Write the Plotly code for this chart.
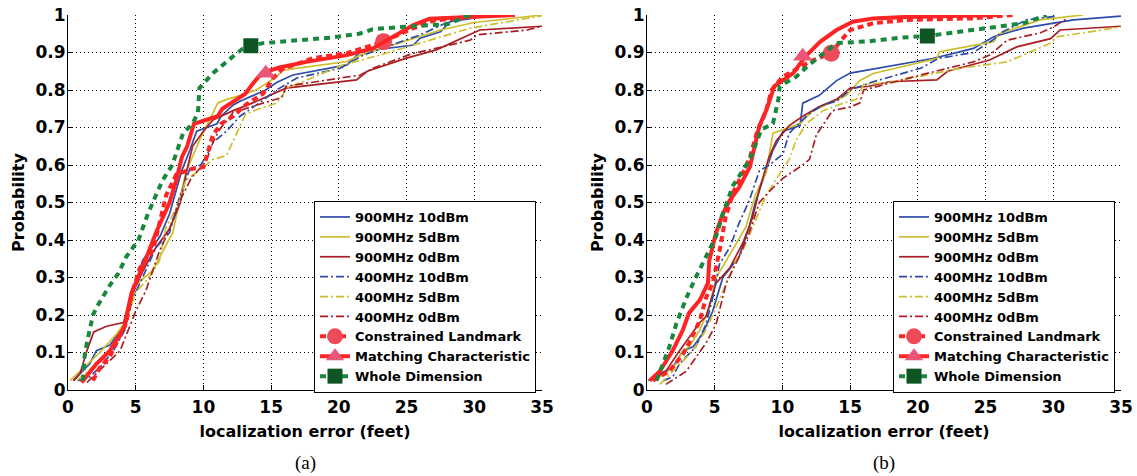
import plotly.graph_objects as go

# ---------------- DATA: panel (a) ----------------
A_900_10_X = [0.4, 1.1, 1.6, 2.1, 3.1, 4.1, 4.6, 5.5, 6.8, 7.5, 8.4, 9.0, 9.5, 11.0, 11.3, 12.2, 12.7, 14.6, 15.4, 16.6, 18.1, 20.6, 21.6, 25.5, 26.0, 27.5, 28.2, 29.7, 31.0]
A_900_10_Y = [0.025, 0.05, 0.07, 0.105, 0.12, 0.17, 0.23, 0.345, 0.41, 0.47, 0.585, 0.64, 0.69, 0.71, 0.73, 0.76, 0.77, 0.80, 0.82, 0.84, 0.85, 0.867, 0.902, 0.92, 0.938, 0.955, 0.982, 0.99, 1.0]
A_900_5_X = [0.15, 0.9, 2.35, 3.6, 4.3, 5.0, 6.3, 7.0, 7.75, 8.2, 8.7, 9.7, 11.05, 11.7, 12.7, 13.9, 15.4, 15.9, 20.6, 21.6, 25.5, 27.5, 30.0, 35.0]
A_900_5_Y = [0.025, 0.05, 0.1, 0.15, 0.185, 0.28, 0.32, 0.37, 0.42, 0.5, 0.58, 0.665, 0.765, 0.775, 0.785, 0.80, 0.835, 0.853, 0.876, 0.893, 0.938, 0.96, 0.98, 1.0]
A_900_0_X = [0.4, 0.9, 1.4, 1.9, 2.85, 4.1, 4.6, 5.5, 6.3, 7.5, 8.3, 8.8, 9.2, 10.0, 10.7, 12.2, 13.6, 15.1, 16.1, 21.3, 22.1, 25.0, 27.2, 30.4, 35.0]
A_900_0_Y = [0.025, 0.045, 0.105, 0.155, 0.17, 0.18, 0.245, 0.315, 0.37, 0.43, 0.5, 0.59, 0.65, 0.69, 0.72, 0.745, 0.765, 0.79, 0.805, 0.827, 0.85, 0.885, 0.907, 0.96, 0.97]
A_400_10_X = [0.75, 1.6, 2.35, 3.35, 4.2, 4.8, 5.5, 6.5, 7.5, 8.2, 9.0, 9.8, 10.3, 10.7, 11.7, 12.7, 14.1, 15.4, 16.9, 20.1, 21.8, 26.0, 28.4, 30.0]
A_400_10_Y = [0.025, 0.035, 0.06, 0.105, 0.16, 0.245, 0.3, 0.38, 0.42, 0.51, 0.59, 0.6, 0.63, 0.66, 0.69, 0.73, 0.765, 0.80, 0.832, 0.858, 0.893, 0.947, 0.987, 1.0]
A_400_5_X = [0.65, 2.1, 3.1, 4.3, 5.0, 6.0, 6.75, 7.25, 8.2, 8.7, 9.5, 10.2, 10.7, 11.7, 12.4, 13.1, 14.1, 15.4, 15.9, 16.2, 20.3, 23.0, 26.0, 29.7, 35.0]
A_400_5_Y = [0.025, 0.07, 0.105, 0.185, 0.26, 0.3, 0.345, 0.435, 0.5, 0.56, 0.58, 0.6, 0.615, 0.625, 0.68, 0.735, 0.75, 0.765, 0.79, 0.805, 0.867, 0.893, 0.925, 0.965, 0.998]
A_400_0_X = [1.4, 3.85, 5.0, 5.75, 6.75, 7.5, 8.2, 9.1, 10.2, 10.7, 11.2, 12.2, 14.4, 15.8, 16.1, 21.6, 22.5, 25.5, 26.7, 29.7, 30.2, 33.9, 35.0]
A_400_0_Y = [0.02, 0.105, 0.21, 0.265, 0.37, 0.43, 0.5, 0.565, 0.61, 0.66, 0.695, 0.74, 0.765, 0.78, 0.81, 0.84, 0.858, 0.898, 0.907, 0.933, 0.947, 0.96, 0.97]
A_CL_X = [1.85, 2.35, 3.1, 3.7, 4.3, 4.7, 5.3, 6.3, 7.25, 8.0, 9.2, 10.0, 10.4, 10.7, 11.3, 12.2, 13.1, 14.4, 15.1, 15.8, 18.1, 20.6, 23.3, 25.5, 27.0, 31.0]
A_CL_Y = [0.025, 0.06, 0.09, 0.135, 0.18, 0.255, 0.325, 0.375, 0.52, 0.575, 0.59, 0.595, 0.64, 0.68, 0.71, 0.73, 0.76, 0.79, 0.83, 0.855, 0.885, 0.898, 0.929, 0.965, 0.985, 1.0]
A_MC_X = [1.0, 2.1, 3.1, 4.2, 4.4, 4.7, 5.7, 6.5, 7.5, 8.0, 8.4, 8.8, 9.3, 11.05, 11.4, 12.2, 13.1, 13.6, 14.3, 15.6, 17.6, 20.6, 22.5, 24.0, 25.5, 26.7, 29.7, 33.0]
A_MC_Y = [0.02, 0.07, 0.105, 0.17, 0.21, 0.26, 0.345, 0.42, 0.5, 0.56, 0.62, 0.65, 0.71, 0.73, 0.75, 0.77, 0.79, 0.815, 0.845, 0.86, 0.875, 0.893, 0.911, 0.942, 0.973, 0.99, 0.995, 1.0]
A_WD_X = [1.1, 1.25, 1.6, 1.85, 2.1, 3.1, 3.7, 4.3, 5.2, 5.9, 6.5, 7.0, 7.7, 8.5, 9.2, 9.6, 9.7, 10.7, 12.2, 12.9, 13.5, 14.4, 19.5, 21.5, 22.5, 25.3, 28.0, 29.7]
A_WD_Y = [0.025, 0.1, 0.16, 0.2, 0.22, 0.28, 0.31, 0.355, 0.4, 0.47, 0.52, 0.56, 0.6, 0.685, 0.71, 0.74, 0.805, 0.845, 0.89, 0.91, 0.918, 0.925, 0.94, 0.95, 0.962, 0.97, 0.975, 1.0]
A_CL_MARK = (23.3, 0.929)
A_MC_MARK = (14.6, 0.845)
A_WD_MARK = (13.5, 0.918)

# ---------------- DATA: panel (b) ----------------
B_900_10_X = [0.1, 0.45, 1.9, 2.65, 3.4, 4.1, 4.85, 5.6, 6.8, 7.55, 8.0, 8.8, 9.3, 10.05, 11.3, 11.5, 12.7, 14.0, 15.0, 21.1, 24.1, 25.6, 27.8, 31.5, 35.0]
B_900_10_Y = [0.025, 0.035, 0.06, 0.105, 0.115, 0.15, 0.21, 0.3, 0.355, 0.435, 0.5, 0.585, 0.64, 0.69, 0.705, 0.765, 0.785, 0.825, 0.845, 0.884, 0.911, 0.942, 0.965, 0.987, 0.997]
B_900_5_X = [0.45, 1.4, 2.15, 2.65, 3.1, 3.9, 4.6, 5.1, 5.85, 6.6, 7.3, 8.0, 8.8, 9.3, 10.05, 11.3, 12.25, 13.5, 14.7, 15.7, 16.7, 21.4, 21.6, 25.6, 26.0, 29.0, 32.2]
B_900_5_Y = [0.025, 0.045, 0.07, 0.105, 0.115, 0.16, 0.22, 0.3, 0.345, 0.39, 0.435, 0.52, 0.58, 0.685, 0.695, 0.71, 0.745, 0.765, 0.785, 0.825, 0.844, 0.884, 0.902, 0.929, 0.95, 0.987, 1.0]
B_900_0_X = [0.3, 1.4, 2.4, 3.1, 3.9, 4.35, 5.1, 6.1, 7.05, 7.8, 8.3, 9.0, 9.55, 10.5, 11.5, 12.7, 14.0, 15.0, 16.4, 17.9, 21.4, 22.2, 25.3, 27.3, 29.8, 30.5, 35.0]
B_900_0_Y = [0.025, 0.05, 0.105, 0.14, 0.18, 0.195, 0.285, 0.325, 0.39, 0.46, 0.535, 0.62, 0.665, 0.705, 0.73, 0.755, 0.775, 0.805, 0.81, 0.822, 0.827, 0.85, 0.88, 0.915, 0.937, 0.96, 0.97]
B_400_10_X = [1.2, 1.9, 2.4, 3.6, 4.35, 4.85, 5.35, 6.1, 6.8, 7.55, 8.3, 9.05, 10.05, 10.5, 11.9, 13.0, 14.0, 15.0, 16.7, 20.2, 21.5, 24.1, 25.6, 26.1, 28.0, 30.2]
B_400_10_Y = [0.025, 0.035, 0.07, 0.115, 0.175, 0.245, 0.335, 0.38, 0.445, 0.505, 0.585, 0.6, 0.63, 0.685, 0.735, 0.76, 0.77, 0.80, 0.822, 0.858, 0.884, 0.9, 0.935, 0.952, 0.987, 0.997]
B_400_5_X = [0.95, 2.15, 3.4, 4.35, 5.35, 5.85, 6.55, 7.05, 7.8, 8.75, 9.5, 10.5, 11.0, 11.75, 13.0, 14.5, 15.45, 16.0, 17.9, 20.7, 23.1, 26.6, 29.8, 30.3, 35.0]
B_400_5_Y = [0.015, 0.06, 0.105, 0.16, 0.24, 0.285, 0.345, 0.37, 0.435, 0.515, 0.56, 0.615, 0.665, 0.71, 0.745, 0.765, 0.775, 0.815, 0.82, 0.84, 0.858, 0.875, 0.925, 0.942, 0.968]
B_400_0_X = [1.4, 2.9, 4.35, 5.1, 5.85, 6.3, 6.8, 7.55, 8.3, 9.05, 10.05, 11.5, 12.0, 12.5, 13.7, 15.0, 15.7, 16.0, 20.2, 24.1, 25.3, 26.6, 29.0, 30.0, 31.0]
B_400_0_Y = [0.015, 0.05, 0.125, 0.175, 0.285, 0.32, 0.355, 0.42, 0.5, 0.53, 0.565, 0.6, 0.615, 0.68, 0.745, 0.755, 0.765, 0.8, 0.84, 0.875, 0.893, 0.933, 0.952, 0.968, 0.99]
B_CL_X = [0.45, 1.65, 2.65, 3.1, 3.9, 4.35, 4.85, 5.35, 5.8, 6.4, 7.1, 7.6, 8.1, 8.8, 9.2, 10.0, 11.5, 12.3, 13.6, 14.25, 15.0, 16.7, 19.2, 24.1, 27.0]
B_CL_Y = [0.025, 0.05, 0.095, 0.125, 0.185, 0.245, 0.285, 0.37, 0.46, 0.53, 0.58, 0.62, 0.685, 0.745, 0.8, 0.835, 0.865, 0.88, 0.898, 0.929, 0.96, 0.978, 0.987, 0.991, 1.0]
B_MC_X = [0.2, 0.95, 1.9, 2.65, 3.1, 3.9, 4.5, 4.6, 5.1, 5.6, 6.1, 6.8, 7.6, 7.95, 8.3, 8.8, 9.4, 10.0, 10.8, 11.3, 11.8, 12.8, 14.0, 15.2, 16.7, 19.2, 24.1, 26.0]
B_MC_Y = [0.025, 0.05, 0.105, 0.16, 0.205, 0.24, 0.285, 0.345, 0.42, 0.47, 0.505, 0.54, 0.595, 0.65, 0.705, 0.745, 0.81, 0.825, 0.845, 0.87, 0.893, 0.929, 0.96, 0.982, 0.991, 0.995, 0.998, 1.0]
B_WD_X = [0.7, 1.2, 1.65, 2.15, 2.9, 3.6, 4.35, 5.1, 5.6, 6.35, 7.6, 8.45, 9.3, 9.7, 9.8, 11.0, 11.8, 13.0, 14.0, 16.4, 18.9, 20.7, 24.1, 27.8, 29.5]
B_WD_Y = [0.025, 0.07, 0.115, 0.175, 0.245, 0.3, 0.355, 0.41, 0.47, 0.545, 0.615, 0.695, 0.71, 0.775, 0.81, 0.835, 0.862, 0.898, 0.925, 0.93, 0.94, 0.944, 0.96, 0.978, 1.0]
B_CL_MARK = (13.6, 0.898)
B_MC_MARK = (11.5, 0.89)
B_WD_MARK = (20.7, 0.944)

X_TICKS = [0, 5, 10, 15, 20, 25, 30, 35]
X_TICK_TEXT = ["0", "5", "10", "15", "20", "25", "30", "35"]
Y_TICKS = [0, 0.1, 0.2, 0.3, 0.4, 0.5, 0.6, 0.7, 0.8, 0.9, 1]
Y_TICK_TEXT = ["0", "0.1", "0.2", "0.3", "0.4", "0.5", "0.6", "0.7", "0.8", "0.9", "1"]

NAMES = ["900MHz 10dBm", "900MHz 5dBm", "900MHz 0dBm", "400MHz 10dBm", "400MHz 5dBm", "400MHz 0dBm",
         "Constrained Landmark", "Matching Characteristic", "Whole Dimension"]

# ---------------- STYLES ----------------
BLUE = "rgb(45,75,170)"
YELLOW = "rgb(205,190,45)"
DARKRED = "rgb(170,30,35)"
RED = "rgb(255,35,35)"
GREEN = "rgb(25,135,60)"
DASHDOT = "8px,3px,2px,3px"
THIN = 1.7

thin_styles = [
    dict(color=BLUE, width=THIN, dash="solid"),
    dict(color=YELLOW, width=THIN, dash="solid"),
    dict(color=DARKRED, width=THIN, dash="solid"),
    dict(color=BLUE, width=THIN, dash=DASHDOT),
    dict(color=YELLOW, width=THIN, dash=DASHDOT),
    dict(color=DARKRED, width=THIN, dash=DASHDOT),
]
big_styles = [
    (dict(color=RED, width=4, dash="6px,4px"), dict(symbol="circle", size=17, color="rgb(238,75,88)")),
    (dict(color=RED, width=4, dash="solid"), dict(symbol="triangle-up", size=17, color="rgb(235,85,120)")),
    (dict(color=GREEN, width=4, dash="6px,5px"), dict(symbol="square", size=15, color="rgb(15,85,35)")),
]

fig = go.Figure()

panels = [
    ("x", "y", "legend",
     [(A_900_10_X, A_900_10_Y), (A_900_5_X, A_900_5_Y), (A_900_0_X, A_900_0_Y),
      (A_400_10_X, A_400_10_Y), (A_400_5_X, A_400_5_Y), (A_400_0_X, A_400_0_Y)],
     [(A_CL_X, A_CL_Y, A_CL_MARK), (A_MC_X, A_MC_Y, A_MC_MARK), (A_WD_X, A_WD_Y, A_WD_MARK)]),
    ("x2", "y2", "legend2",
     [(B_900_10_X, B_900_10_Y), (B_900_5_X, B_900_5_Y), (B_900_0_X, B_900_0_Y),
      (B_400_10_X, B_400_10_Y), (B_400_5_X, B_400_5_Y), (B_400_0_X, B_400_0_Y)],
     [(B_CL_X, B_CL_Y, B_CL_MARK), (B_MC_X, B_MC_Y, B_MC_MARK), (B_WD_X, B_WD_Y, B_WD_MARK)]),
]

for xa, ya, leg, thin, big in panels:
    for i, (xs, ys) in enumerate(thin):
        fig.add_trace(go.Scatter(x=xs, y=ys, mode="lines", name=NAMES[i], line=thin_styles[i],
                                 xaxis=xa, yaxis=ya, legend=leg, showlegend=True))
    for j, (xs, ys, mk) in enumerate(big):
        ls, ms = big_styles[j]
        fig.add_trace(go.Scatter(x=xs, y=ys, mode="lines", line=ls, xaxis=xa, yaxis=ya,
                                 showlegend=False, legend=leg))
        fig.add_trace(go.Scatter(x=[mk[0]], y=[mk[1]], mode="lines+markers", name=NAMES[6 + j],
                                 line=ls, marker=ms, xaxis=xa, yaxis=ya, legend=leg, showlegend=True))

FONT = "DejaVu Sans"
TICKFONT = dict(family=FONT, size=17, color="black", weight="bold")
TITLEFONT = dict(family=FONT, size=16, color="black", weight="bold")
axis_common = dict(
    showline=True, linecolor="black", linewidth=1, mirror=False,
    showgrid=True, gridcolor="black", griddash="1px,3px", gridwidth=1,
    ticks="inside", ticklen=5, tickcolor="black", zeroline=False, automargin=False,
    ticklabeloverflow="allow", tickfont=TICKFONT,
)
xa_common = dict(axis_common, range=[0, 35], tickmode="array", tickvals=X_TICKS,
                 ticktext=X_TICK_TEXT, ticklabelstandoff=2,
                 title=dict(text="localization error (feet)", standoff=9, font=TITLEFONT))
ya_common = dict(axis_common, range=[0, 1], tickmode="array", tickvals=Y_TICKS,
                 ticktext=Y_TICK_TEXT, ticklabelstandoff=-2,
                 title=dict(text="Probability", standoff=6, font=TITLEFONT))

legend_common = dict(
    xanchor="left", yanchor="top", bgcolor="white", bordercolor="black", borderwidth=1,
    font=dict(family=FONT, size=13, color="black", weight="bold"), tracegroupgap=0,
)

W, H = 1137, 476
ML, MT, MR, MB = 68, 15, 1137 - 1121, 476 - 390
pw = W - ML - MR
ph = H - MT - MB
d1 = (542 - ML) / pw
d2 = (647 - ML) / pw

fig.update_layout(
    width=W, height=H,
    margin=dict(l=ML, r=MR, t=MT, b=MB, autoexpand=False),
    paper_bgcolor="white", plot_bgcolor="white",
    font=dict(family=FONT, color="black"),
    xaxis=dict(xa_common, domain=[0, d1], anchor="y"),
    yaxis=dict(ya_common, domain=[0, 1], anchor="x"),
    xaxis2=dict(xa_common, domain=[d2, 1], anchor="y2"),
    yaxis2=dict(ya_common, domain=[0, 1], anchor="x2"),
    legend=dict(legend_common, x=(314 - ML) / pw, y=(390 - 201) / ph),
    legend2=dict(legend_common, x=(893 - ML) / pw, y=(390 - 201) / ph),
    annotations=[
        dict(text="(a)", xref="x domain", yref="paper", x=0.5, y=-(463 - 390) / ph, yanchor="middle",
             showarrow=False, font=dict(family="Liberation Serif", size=19, color="black")),
        dict(text="(b)", xref="x2 domain", yref="paper", x=0.5, y=-(463 - 390) / ph, yanchor="middle",
             showarrow=False, font=dict(family="Liberation Serif", size=19, color="black")),
    ],
)

# the page's default body margin would shift the drawing; remove it so the figure sits at (0, 0)
fig.write_html("out.html", config={"displayModeBar": False},
               post_script="document.body.style.margin='0';")
